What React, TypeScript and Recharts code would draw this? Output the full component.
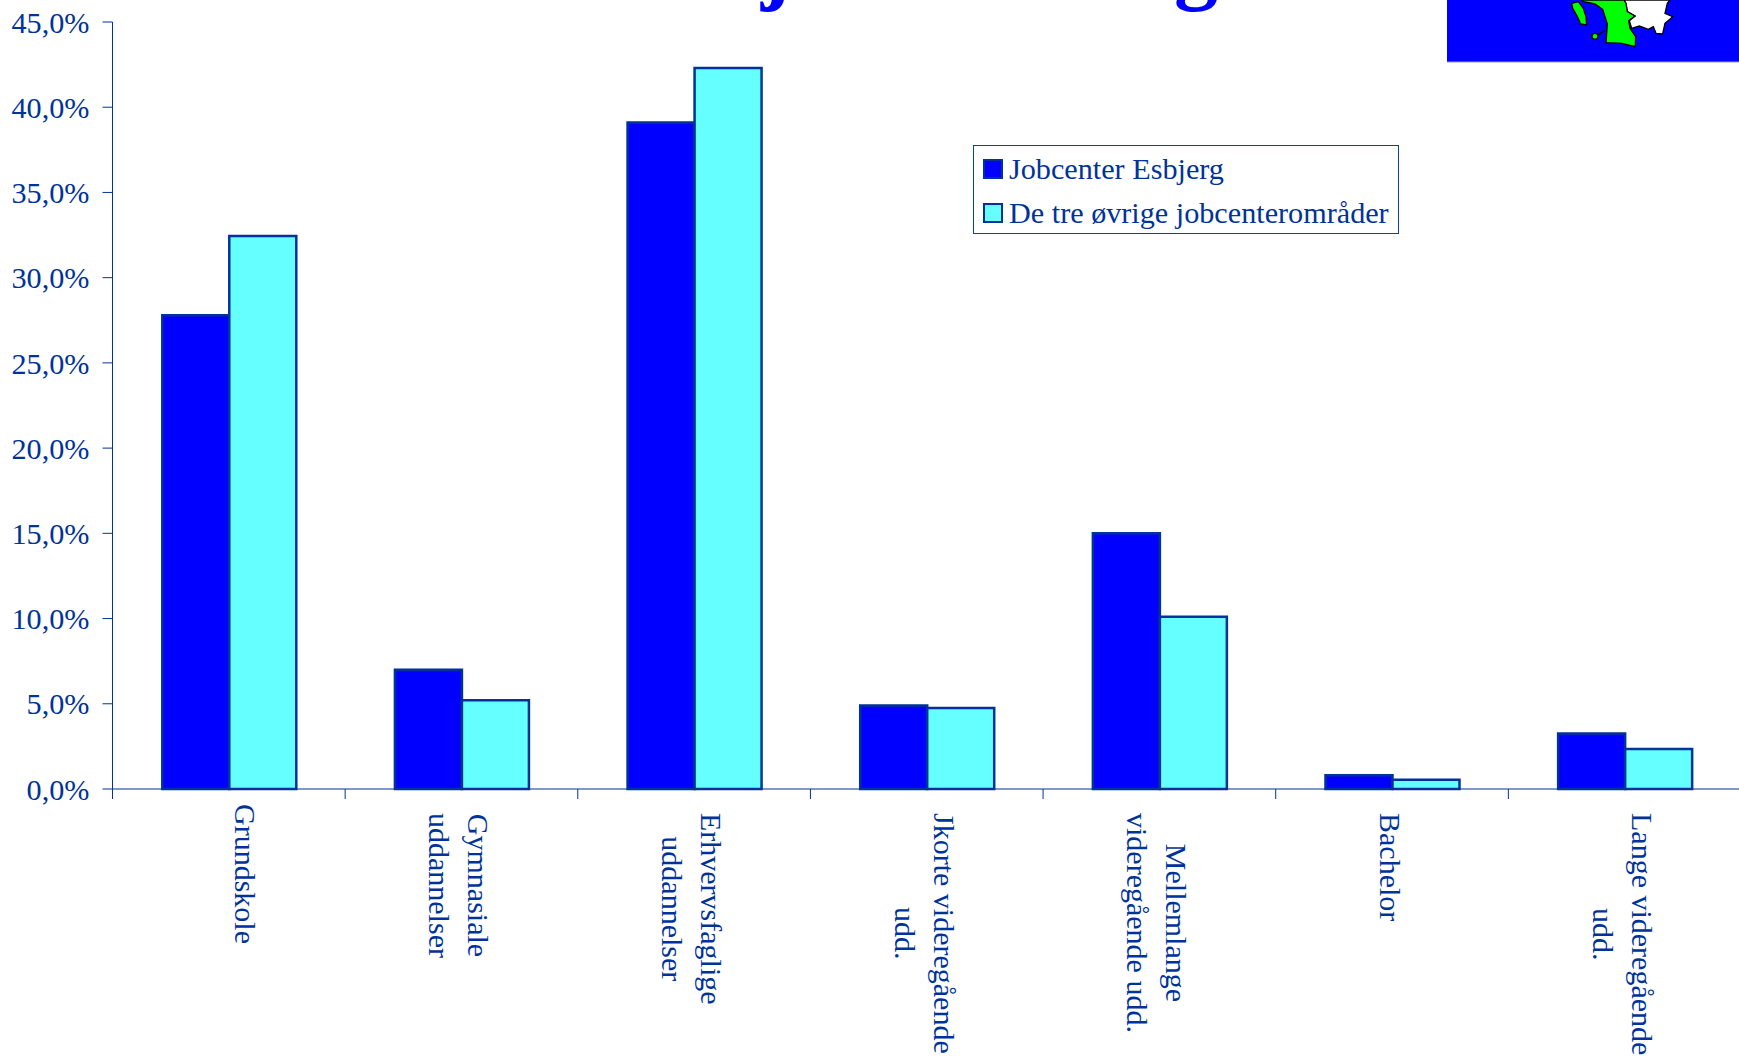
import { BarChart, Bar, XAxis, YAxis, Legend } from "recharts";

const categories = [
  ["Grundskole"],
  ["Gymnasiale", "uddannelser"],
  ["Erhvervsfaglige", "uddannelser"],
  ["Jkorte videregående", "udd."],
  ["Mellemlange", "videregående udd."],
  ["Bachelor"],
  ["Lange videregående", "udd."],
];
const esbjerg = [27.8, 7.0, 39.1, 4.9, 15.0, 0.8, 3.25];
const oevrige = [32.45, 5.2, 42.3, 4.75, 10.1, 0.55, 2.35];
const yTicks = [0, 5, 10, 15, 20, 25, 30, 35, 40, 45];
const seriesNames = ["Jobcenter Esbjerg", "De tre øvrige jobcenterområder"];

const data = categories.map((lines, i) => ({
  name: lines.join(" "),
  esbjerg: esbjerg[i],
  oevrige: oevrige[i],
}));

const INK = "#003399";
const FONT = "'Liberation Serif', serif";
const FONT_SIZE = 30.2;
const LABEL_SIZE = 30;
const CHART_W = 1741;
const PLOT_LEFT = 112.5;
const LINE_H = 39;
const bandWidth = (CHART_W - PLOT_LEFT) / categories.length;

const measure = document.createElement("canvas").getContext("2d")!;
measure.font = `${LABEL_SIZE}px ${FONT}`;

// labels read downwards, first line furthest right, lines centred on each other
const CategoryTick = ({ x, y, payload, index }: any) => {
  const i = payload?.index ?? index;
  const lines = categories[i] ?? [];
  const longest = Math.max(...lines.map((l) => measure.measureText(l).width));
  const cx = x + (i === 0 ? 17 : -2);
  const centerY = y + (i === 0 ? 7 : 16) + longest / 2;
  return (
    <g>
      <line x1={x - bandWidth / 2} x2={x - bandWidth / 2} y1={y - 8} y2={y + 2} stroke={INK} />
      {lines.map((line, n) => {
        const lx = cx + ((lines.length - 1) / 2 - n) * LINE_H;
        return (
          <text
            key={line}
            x={lx}
            y={centerY}
            transform={`rotate(90 ${lx} ${centerY})`}
            textAnchor="middle"
            dominantBaseline="central"
            fontFamily={FONT}
            fontSize={LABEL_SIZE}
            fill={INK}
          >
            {line}
          </text>
        );
      })}
    </g>
  );
};

const LegendBox = () => (
  <div
    style={{
      width: 426,
      height: 89,
      boxSizing: "border-box",
      border: "1px solid #0a3fa8",
      background: "#fff",
      fontFamily: FONT,
      fontSize: FONT_SIZE,
      color: INK,
      position: "relative",
    }}
  >
    {seriesNames.map((name, i) => (
      <div
        key={name}
        style={{
          position: "absolute",
          left: 9,
          top: i === 0 ? 5 : 49,
          height: 36,
          display: "flex",
          alignItems: "center",
          whiteSpace: "nowrap",
        }}
      >
        <span
          style={{
            width: 20,
            height: 20,
            boxSizing: "border-box",
            border: `2.5px solid ${INK}`,
            background: i === 0 ? "#0000ff" : "#66ffff",
            marginRight: 6,
          }}
        />
        {name}
      </div>
    ))}
  </div>
);

// bit of the map picture in the top right corner
const MapCorner = () => (
  <svg
    width={292}
    height={63}
    viewBox="1447 0 292 63"
    style={{ position: "absolute", left: 1447, top: 0 }}
  >
    <rect x={1447} y={0} width={292} height={62} fill="#0000ff" />
    <line x1={1447} x2={1739} y1={62} y2={62} stroke="#999" />
    <g stroke="#000" strokeWidth={4} transform="translate(1550 0) scale(0.3333)">
      <polygon
        fill="#fff"
        points="222,0 228,12 232,35 255,48 238,62 245,85 268,78 295,88 310,80 318,100 338,102 345,70 368,50 345,40 352,10 360,0"
      />
      <polygon
        fill="#00ff00"
        points="95,0 100,5 135,12 158,28 172,72 168,128 215,130 256,140 257,110 240,85 236,62 255,48 232,35 228,10 222,0"
      />
      <polygon fill="#00ff00" points="65,10 85,5 100,25 108,50 110,75 92,72 82,50 68,25" />
      <line x1={135} y1={109} x2={166} y2={92} />
      <circle cx={135} cy={109} r={9} fill="#00ff00" />
    </g>
  </svg>
);

export default function App() {
  return (
    <div
      style={{
        position: "absolute",
        left: 0,
        top: 0,
        width: 1739,
        height: 1056,
        overflow: "hidden",
        background: "#fff",
      }}
    >
      {/* the slide title is cut off by the top edge, only descenders show */}
      <span style={{ position: "absolute", left: 761, top: -87, font: `bold 88px ${FONT}`, color: "#0000ff" }}>j</span>
      <span style={{ position: "absolute", left: 1174, top: -87, font: `bold 88px ${FONT}`, color: "#0000ff" }}>g</span>
      <BarChart
        width={CHART_W}
        height={1056}
        data={data}
        margin={{ top: 22, right: 0, bottom: 0, left: 0 }}
        barCategoryGap="21.4%"
        barGap={0}
        style={{ position: "absolute", left: 0, top: 0 }}
      >
        <XAxis
          dataKey="name"
          height={267}
          interval={0}
          stroke={INK}
          tickLine={false}
          tick={<CategoryTick />}
        />
        <YAxis
          width={112.5}
          domain={[0, 45]}
          ticks={yTicks}
          interval={0}
          stroke={INK}
          tickSize={10}
          tick={{ fill: INK, fontSize: FONT_SIZE, fontFamily: FONT }}
          tickMargin={13}
          tickFormatter={(v: number) => `${v.toFixed(1).replace(".", ",")}%`}
        />
        <Legend
          content={<LegendBox />}
          layout="vertical"
          align="center"
          verticalAlign="middle"
          wrapperStyle={{ left: 973, top: 145, width: 426 }}
        />
        <Bar dataKey="esbjerg" name={seriesNames[0]} fill="#0000ff" stroke={INK} strokeWidth={2.5} isAnimationActive={false} />
        <Bar dataKey="oevrige" name={seriesNames[1]} fill="#66ffff" stroke={INK} strokeWidth={2.5} isAnimationActive={false} />
      </BarChart>
      <MapCorner />
    </div>
  );
}
